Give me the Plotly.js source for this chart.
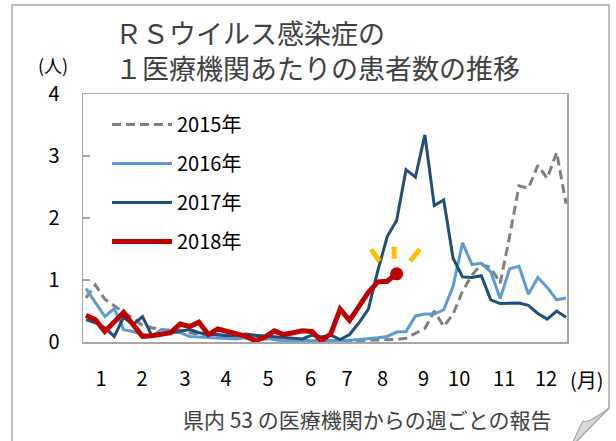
<!DOCTYPE html>
<html><head><meta charset="utf-8">
<script src="https://cdn.plot.ly/plotly-3.0.1.min.js"></script>
<style>html,body{margin:0;padding:0;background:#fff;} #chart{width:616px;height:441px;}</style>
</head><body><div id="chart"></div>
<script>
// ---- data ----
const weeks = [1,2,3,4,5,6,7,8,9,10,11,12,13,14,15,16,17,18,19,20,21,22,23,24,25,26,
  27,28,29,30,31,32,33,34,35,36,37,38,39,40,41,42,43,44,45,46,47,48,49,50,51,52];
const seriesNames = ['2015年','2016年','2017年','2018年'];
const y2015 = [0.71,0.92,0.69,0.58,0.48,0.38,0.27,0.23,0.20,0.19,0.19,0.15,0.12,0.10,0.09,0.08,0.07,0.06,0.05,0.04,0.03,0.03,0.02,0.02,0.02,0.01,
  0.02,0.01,0.02,0.02,0.03,0.03,0.03,0.04,0.06,0.14,0.22,0.50,0.25,0.45,0.82,1.08,1.25,1.20,0.95,1.70,2.52,2.48,2.85,2.64,3.06,2.23];
const y2016 = [0.86,0.64,0.41,0.54,0.20,0.17,0.12,0.09,0.20,0.17,0.15,0.09,0.08,0.07,0.06,0.05,0.05,0.07,0.09,0.06,0.04,0.02,0.02,0.03,0.02,0.02,
  0.02,0.03,0.03,0.04,0.05,0.07,0.09,0.16,0.17,0.42,0.45,0.45,0.52,0.90,1.60,1.25,1.27,1.13,0.70,1.18,1.22,0.77,1.04,0.88,0.68,0.71];
const y2017 = [0.36,0.31,0.23,0.09,0.40,0.28,0.41,0.10,0.12,0.15,0.18,0.20,0.15,0.12,0.12,0.10,0.11,0.13,0.11,0.10,0.08,0.07,0.06,0.05,0.11,0.08,
  0.11,0.04,0.12,0.31,0.53,1.15,1.70,1.96,2.78,2.66,3.34,2.20,2.29,1.35,1.05,1.04,1.07,0.68,0.62,0.63,0.63,0.59,0.46,0.37,0.50,0.40];
const y2018 = [0.43,0.36,0.17,0.32,0.48,0.28,0.09,0.10,0.12,0.15,0.29,0.25,0.32,0.12,0.21,0.17,0.12,0.09,0.02,0.08,0.18,0.12,0.15,0.18,0.17,0.02,
  0.13,0.53,0.35,0.57,0.80,0.97,0.98,1.10];
const monthTickWeeks = [2.59,6.95,11.52,15.88,20.34,24.86,28.74,32.51,36.87,40.64,45.42,49.88];
const monthTickLabels = ['1','2','3','4','5','6','7','8','9','10','11','12'];
const yTickVals = [0,1,2,3,4];

// ---- layout geometry ----
const W = 616, H = 441;
const mL = 83, mR = 49, mT = 94, mB = 99;
const pw = W - mL - mR, ph = H - mT - mB;
const px = v => (v - mL) / pw;          // pixel x -> paper x
const py = v => (H - mB - v) / ph;      // pixel y -> paper y
const xRange = [0.68, 52.1], yRange = [0, 4];
const dxpp = (xRange[1]-xRange[0]) / pw, dypp = (yRange[1]-yRange[0]) / ph;

const FONT = '"Noto Sans CJK JP", "Noto Sans", sans-serif';
const colors = ['#7F7F7F','#5B9BD5','#1F4E79','#C00000'];
const widths = [3, 3, 3, 5];
const dashes = ['9px,5px','solid','solid','solid'];
const ys = [y2015, y2016, y2017, y2018];

const traces = ys.map((arr, i) => ({
  type: 'scatter', mode: 'lines',
  x: weeks.slice(0, arr.length), y: arr,
  name: seriesNames[i], legendgroup: 'g' + i,
  line: {color: colors[i], width: widths[i], dash: dashes[i]},
  hoverinfo: 'skip'
}));
const lastIdx = y2018.length - 1;
const lastX = weeks[lastIdx], lastY = y2018[lastIdx];
traces.push({
  type: 'scatter', mode: 'markers', x: [lastX], y: [lastY], showlegend: false,
  marker: {color: '#C00000', size: 13}, hoverinfo: 'skip'
});

// sparkle strokes around the latest point (offsets in px)
const strokes = [[-25.5,-24.4,-17,-12.5],[-2.5,-27,-2.5,-15],[23,-24.4,13.5,-12.5]];
const shapes = strokes.map(s => ({
  type: 'line', xref: 'x', yref: 'y',
  x0: lastX + s[0]*dxpp, y0: lastY - s[1]*dypp,
  x1: lastX + s[2]*dxpp, y1: lastY - s[3]*dypp,
  line: {color: '#FFC000', width: 5}
}));
// outer frame with folded corner
const fL = px(12), fR = px(609), fT = py(5), fB = py(447), foldY = py(408), foldX = px(571);
shapes.push({
  type: 'path', xref: 'paper', yref: 'paper', layer: 'below',
  path: `M${fL},${fT} L${fR},${fT} L${fR},${foldY} L${foldX},${fB} L${fL},${fB} Z`,
  line: {color: '#A6A6A6', width: 1.5}, fillcolor: 'rgba(0,0,0,0)'
});
shapes.push({
  type: 'path', xref: 'paper', yref: 'paper',
  path: `M${fR},${foldY} Q${px(588)},${py(424)} ${px(583)},${py(421)} Q${px(577)},${py(432)} ${foldX},${fB} Z`,
  line: {color: '#A6A6A6', width: 1.2}, fillcolor: '#D9D9D9'
});

const layout = {
  width: W, height: H,
  margin: {l: mL, r: mR, t: mT, b: mB, pad: 0},
  paper_bgcolor: '#fff', plot_bgcolor: '#fff',
  font: {family: FONT, size: 20, color: '#000'},
  title: {
    text: 'ＲＳウイルス感染症の<br>１医療機関あたりの患者数の推移',
    font: {family: FONT, size: 27, color: '#404040'},
    x: 115 / W, xanchor: 'left', xref: 'container',
    y: 1 - 44 / H, yanchor: 'top', yref: 'container'
  },
  xaxis: {
    range: xRange, tickvals: monthTickWeeks, ticktext: monthTickLabels,
    ticks: '', showgrid: false, zeroline: false,
    showline: true, mirror: true, linecolor: '#A6A6A6', linewidth: 1.5,
    tickfont: {family: FONT, size: 20, color: '#000'},
    ticklabelstandoff: 18, fixedrange: true
  },
  yaxis: {
    range: yRange, tickvals: yTickVals,
    ticks: 'inside', ticklen: 7, tickcolor: '#A6A6A6', tickwidth: 1.5,
    showgrid: false, zeroline: false,
    showline: true, mirror: true, linecolor: '#A6A6A6', linewidth: 1.5,
    tickfont: {family: FONT, size: 20, color: '#000'},
    ticklabelstandoff: 18, fixedrange: true
  },
  legend: {
    x: px(107), y: py(105), xanchor: 'left', yanchor: 'top',
    bgcolor: 'rgba(0,0,0,0)', borderwidth: 0,
    font: {family: FONT, size: 20, color: '#000'},
    itemwidth: 60, tracegroupgap: 10, traceorder: 'grouped'
  },
  shapes: shapes,
  annotations: [
    {text: '(人)', xref: 'paper', yref: 'paper', x: px(53), y: py(65), xanchor: 'center', yanchor: 'middle',
     showarrow: false, font: {family: FONT, size: 18, color: '#000'}},
    {text: '(月)', xref: 'paper', yref: 'paper', x: px(587), y: py(379), xanchor: 'center', yanchor: 'middle',
     showarrow: false, font: {family: FONT, size: 20, color: '#000'}},
    {text: '県内 53 の医療機関からの週ごとの報告', xref: 'paper', yref: 'paper', x: px(367), y: py(419),
     xanchor: 'center', yanchor: 'middle', showarrow: false, font: {family: FONT, size: 21, color: '#404040'}}
  ],
  showlegend: true, hovermode: false
};
Plotly.newPlot('chart', traces, layout, {displayModeBar: false, staticPlot: true});
</script></body></html>
